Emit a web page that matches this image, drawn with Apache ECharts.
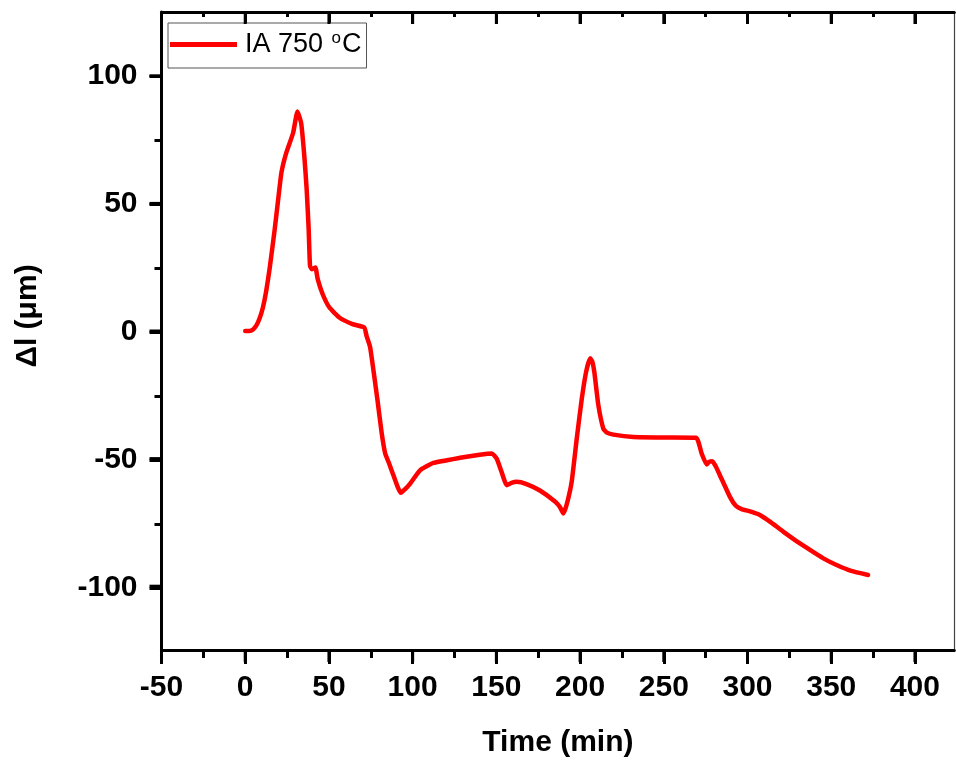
<!DOCTYPE html>
<html>
<head>
<meta charset="utf-8">
<script src="https://cdn.jsdelivr.net/npm/echarts@6/dist/echarts.min.js"></script>
<style>
  html, body { margin: 0; padding: 0; background: #ffffff; }
  #chart { width: 956px; height: 763px; }
</style>
</head>
<body>
<div id="chart"></div>
<script>
// ---- data ----
const seriesName = 'IA 750 oC';
const timeMin = [0, 2.5, 4.5, 6.5, 8.5, 10.5, 12.5, 14.7, 17.6, 19.7, 21.6, 24.5, 28.6, 31.2, 33.4, 35.3, 36.7, 37.9, 38.7, 39.9, 41.9, 43.3, 46.2, 50.2, 56.2, 64.1, 71.1, 72.5, 74.6, 78.9, 81.5, 83.6, 86, 88.5, 92.9, 95.5, 98.5, 104.4, 112.4, 128.3, 140, 147.3, 150.2, 153, 156.2, 159, 162.2, 168, 176, 185, 188, 190, 192, 195, 198, 201, 203.6, 206, 207.3, 208.5, 210.9, 213.9, 216, 219.9, 231.8, 250, 269.3, 272.6, 275.6, 277, 279, 281, 283.5, 289.5, 293, 296.5, 301, 307.4, 314, 321.3, 329, 337.3, 345, 353.2, 362, 372];
const deltaL = [0, 0, 0.5, 2.0, 4.8, 9, 15.5, 25, 39.8, 51.6, 62, 69.8, 77.6, 86, 81.5, 68.5, 55.5, 39.8, 25.5, 24.2, 24.9, 20.3, 14.5, 9.3, 5.3, 2.7, 1.4, -2, -6.3, -26.6, -40, -48, -52, -56.5, -63.4, -62, -59.8, -54.6, -51.7, -49.7, -48.5, -48, -50, -55, -60.4, -59.5, -59.1, -60, -62.5, -66.8, -69, -71.5, -68, -59, -42.2, -26.6, -16, -10.7, -12, -16, -29, -38.3, -39.8, -40.6, -41.5, -41.7, -41.8, -48, -52.3, -51.3, -51, -53, -56.5, -65, -68.5, -69.8, -70.6, -72.1, -75, -78.6, -82.2, -85.8, -89, -91.7, -94, -95.6];
const xMajorTicks = [-50, 0, 50, 100, 150, 200, 250, 300, 350, 400];
const yMajorTicks = [-100, -50, 0, 50, 100];
// tick labels: first, last, step
const X_T0 = -50, X_T1 = 400, X_STEP = 50;
const Y_T0 = -100, Y_T1 = 100, Y_STEP = 50;
const xTitle = 'Time (min)';
const yTitle = 'Δl (μm)';

const FONT = '"Liberation Sans", Arial, sans-serif';
// plot range
const X_MIN = -50, X_MAX = 423.5, Y_MIN = -125, Y_MAX = 125;

// plot box in pixels
const G_LEFT = 161.5, G_RIGHT = 1.7, G_TOP = 12, G_BOTTOM = 111;
const W = 956, H = 763;
const plotW = W - G_LEFT - G_RIGHT, plotH = H - G_TOP - G_BOTTOM;
const kx = plotW / (X_MAX - X_MIN), ky = plotH / (Y_MAX - Y_MIN);
const MAJOR_LEN = 12;

// helper grids with the same pixel scale as the plot, covering the tick ranges
function xGrid(a, b) {
  return { left: G_LEFT + (a - X_MIN) * kx, right: G_RIGHT + (X_MAX - b) * kx, top: G_TOP, bottom: G_BOTTOM, containLabel: false };
}
function yGrid(a, b) {
  return { left: G_LEFT, right: G_RIGHT, top: G_TOP + (Y_MAX - b) * ky, bottom: G_BOTTOM + (a - Y_MIN) * ky, containLabel: false };
}

const chart = echarts.init(document.getElementById('chart'), null, { renderer: 'canvas' });
const data = timeMin.map((t, i) => [t, deltaL[i]]);

const bare = {
  type: 'value',
  splitLine: { show: false },
  axisLabel: { show: false },
  axisTick: { show: false },
  axisLine: { show: false, onZero: false }
};
const tickStyle = () => ({ color: '#000', width: 3 });
function ax(o) { return Object.assign({}, bare, o); }
const labelStyle = { color: '#000', fontSize: 30, fontWeight: 'bold', fontFamily: FONT, showMinLabel: true, showMaxLabel: true, hideOverlap: false };

const option = {
  backgroundColor: '#ffffff',
  animation: false,
  grid: [
    { left: G_LEFT, right: G_RIGHT, top: G_TOP, bottom: G_BOTTOM, containLabel: false },
    xGrid(X_T0, X_T1),
    yGrid(Y_T0, Y_T1)
  ],
  xAxis: [
    ax({
      gridIndex: 0, min: X_MIN, max: X_MAX, position: 'bottom',
      axisLine: { show: true, onZero: false, lineStyle: { color: '#000', width: 3 } },
      name: xTitle, nameLocation: 'middle', nameGap: 78,
      nameTextStyle: { color: '#000', fontSize: 30, fontWeight: 'bold', fontFamily: FONT }
    }),
    ax({
      gridIndex: 0, min: X_MIN, max: X_MAX, position: 'top',
      axisLine: { show: true, onZero: false, lineStyle: { color: '#000', width: 3 } }
    }),
    ax({
      gridIndex: 1, min: X_T0, max: X_T1, interval: X_STEP, position: 'bottom',
      axisTick: { show: true, length: MAJOR_LEN, lineStyle: tickStyle() },
      minorTick: { show: true, splitNumber: 2, length: 6, lineStyle: tickStyle() },
      axisLabel: Object.assign({ show: true, margin: 21 }, labelStyle)
    }),
    ax({
      gridIndex: 1, min: X_T0, max: X_T1, interval: X_STEP, position: 'top',
      axisTick: { show: true, inside: true, length: MAJOR_LEN, lineStyle: tickStyle() },
      minorTick: { show: true, splitNumber: 2, length: 5, lineStyle: tickStyle() }
    }),
    ax({ gridIndex: 2, min: X_MIN, max: X_MAX, position: 'bottom' })
  ],
  yAxis: [
    ax({
      gridIndex: 0, min: Y_MIN, max: Y_MAX, position: 'left',
      axisLine: { show: true, onZero: false, lineStyle: { color: '#000', width: 3 } }
    }),
    ax({
      gridIndex: 0, min: Y_MIN, max: Y_MAX, position: 'right',
      axisLine: { show: true, onZero: false, lineStyle: { color: '#444', width: 1.2 } }
    }),
    ax({ gridIndex: 1, min: Y_MIN, max: Y_MAX, position: 'left' }),
    ax({
      gridIndex: 2, min: Y_T0, max: Y_T1, interval: Y_STEP, position: 'left',
      axisTick: { show: true, length: MAJOR_LEN, lineStyle: tickStyle() },
      minorTick: { show: true, splitNumber: 2, length: 7, lineStyle: tickStyle() },
      axisLabel: Object.assign({ show: true, margin: 24 }, labelStyle)
    })
  ],
  legend: {
    show: true,
    left: 168, top: 23,
    orient: 'vertical',
    padding: [7, 5, 6, 2],
    borderColor: '#555', borderWidth: 1,
    backgroundColor: '#fff',
    itemWidth: 67, itemHeight: 5,
    icon: 'rect',
    data: [{ name: seriesName, icon: 'rect', itemStyle: { color: '#ff0000' } }],
    formatter: function () { return '{n|IA 750 }{s|o}{n|C}'; },
    textStyle: {
      color: '#000', fontFamily: FONT, fontSize: 27,
      padding: [0, 0, 0, 3],
      rich: {
        n: { fontSize: 27, fontFamily: FONT, color: '#000', lineHeight: 29 },
        s: { fontSize: 17, fontFamily: FONT, color: '#000', verticalAlign: 'top', padding: [0, 1, 15, 1], lineHeight: 17 }
      }
    }
  },
  graphic: [
    {
      id: 'ytitle',
      type: 'text',
      x: 28, y: 316,
      rotation: Math.PI / 2,
      style: {
        text: yTitle,
        fill: '#000',
        font: 'bold 30px ' + FONT,
        textAlign: 'center',
        textVerticalAlign: 'middle'
      }
    }
  ],
  series: [
    {
      name: seriesName,
      type: 'line',
      xAxisIndex: 0, yAxisIndex: 0,
      data: data,
      showSymbol: false,
      symbol: 'none',
      smooth: 0.15,
      lineStyle: { color: '#ff0000', width: 4.5, join: 'round', cap: 'round' },
      itemStyle: { color: '#ff0000' },
      clip: true,
      z: 3
    }
  ]
};

chart.setOption(option);

// major ticks, positioned through the plot axes' own scales
const finder = { xAxisIndex: 0, yAxisIndex: 0 };
const tickEls = [];
xMajorTicks.forEach(function (v, i) {
  const pb = chart.convertToPixel(finder, [v, Y_MIN]);
  const pt = chart.convertToPixel(finder, [v, Y_MAX]);
  tickEls.push({ id: 'xb' + i, type: 'line', z: 100, silent: true,
    shape: { x1: pb[0], y1: pb[1], x2: pb[0], y2: pb[1] + MAJOR_LEN },
    style: { stroke: '#000', lineWidth: 3 } });
  tickEls.push({ id: 'xt' + i, type: 'line', z: 100, silent: true,
    shape: { x1: pt[0], y1: pt[1], x2: pt[0], y2: pt[1] + MAJOR_LEN },
    style: { stroke: '#000', lineWidth: 3 } });
});
yMajorTicks.forEach(function (v, i) {
  const p = chart.convertToPixel(finder, [X_MIN, v]);
  tickEls.push({ id: 'yl' + i, type: 'line', z: 100, silent: true,
    shape: { x1: p[0] - MAJOR_LEN, y1: p[1], x2: p[0], y2: p[1] },
    style: { stroke: '#000', lineWidth: 3 } });
});
chart.setOption({ graphic: tickEls });
</script>
</body>
</html>
